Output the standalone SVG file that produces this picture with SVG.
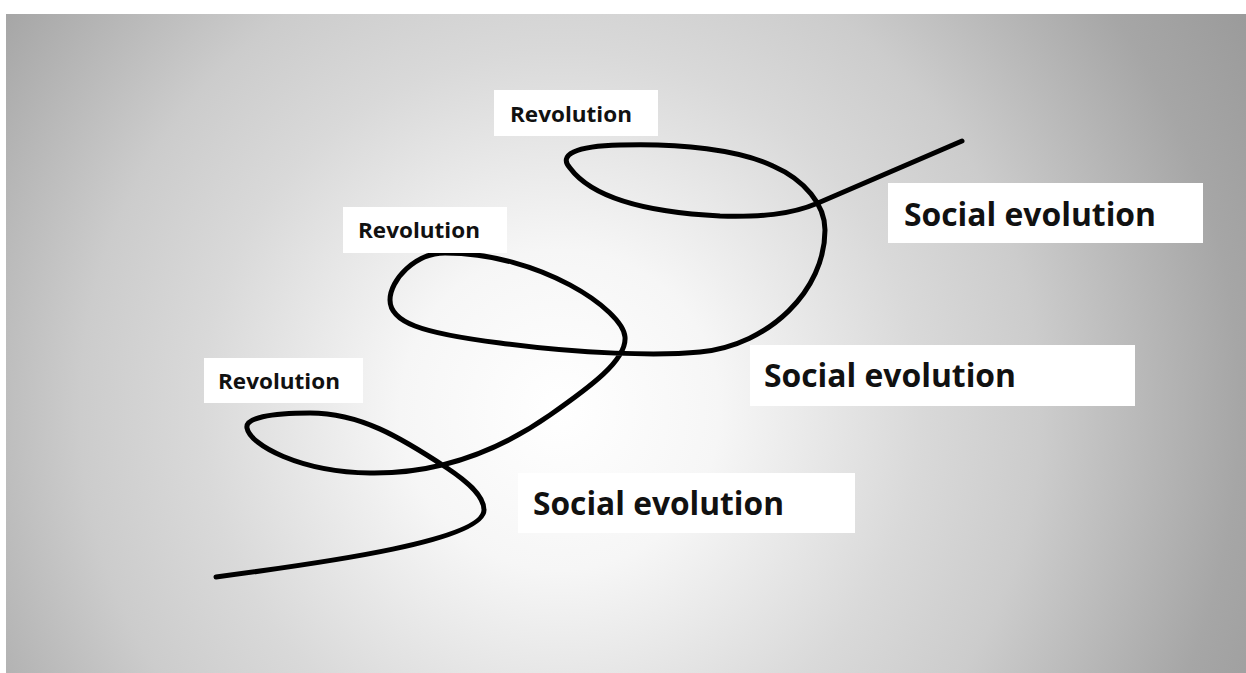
<svg xmlns="http://www.w3.org/2000/svg" width="1246" height="673" viewBox="0 0 1246 673">
<defs>
<radialGradient id="bg" gradientUnits="userSpaceOnUse" cx="560" cy="410" r="800">
<stop offset="0" stop-color="#ffffff"/>
<stop offset="0.2" stop-color="#f6f6f6"/>
<stop offset="0.45" stop-color="#d9d9d9"/>
<stop offset="0.6" stop-color="#cccccc"/>
<stop offset="0.85" stop-color="#a6a6a6"/>
<stop offset="1" stop-color="#9a9a9a"/>
</radialGradient>
<style>
.box{fill:#ffffff}
.rev{font-family:"Open Sans","Liberation Sans",sans-serif;font-weight:bold;font-size:21px;fill:#111111}
.soc{font-family:"Open Sans","Liberation Sans",sans-serif;font-weight:bold;font-size:33px;fill:#111111}
.curve{fill:none;stroke:#000000;stroke-width:5;stroke-linecap:round;stroke-linejoin:round}
</style>
</defs>
<rect x="0" y="0" width="1246" height="673" fill="#ffffff"/>
<rect x="6" y="14" width="1240" height="659" fill="url(#bg)"/>
<g id="connectors">
<path class="curve" d="M216,577 C330,562 484,540 484,510 C484,495 465,480 447,468 C400,437 360,413 310,413 C270,413 245,418 247,428 C250,445 300,472 370,473 C440,474 500,450 550,415 C590,387 627,360 625,337 C623,310 540,253 445,253 C415,253 390,280 390,300 C390,322 420,333 500,343 C580,354 660,356 700,352 C770,345 825,290 825,230 C825,205 805,180 773,166 C740,150 680,143 620,145 C575,146 558,155 570,168 C590,195 640,212 720,216 C760,217 790,215 818,203 L962,141"/>
</g>
<g id="rev1">
<rect class="box" x="494" y="90" width="164" height="46"/>
<text class="rev" x="510" y="122" textLength="122" lengthAdjust="spacingAndGlyphs">Revolution</text>
</g>
<g id="rev2">
<rect class="box" x="343" y="207" width="164" height="46"/>
<text class="rev" x="358" y="238" textLength="122" lengthAdjust="spacingAndGlyphs">Revolution</text>
</g>
<g id="rev3">
<rect class="box" x="204" y="358" width="159" height="45"/>
<text class="rev" x="218" y="389" textLength="122" lengthAdjust="spacingAndGlyphs">Revolution</text>
</g>
<g id="soc1">
<rect class="box" x="888" y="183" width="315" height="60"/>
<text class="soc" x="904" y="226" textLength="252" lengthAdjust="spacingAndGlyphs">Social evolution</text>
</g>
<g id="soc2">
<rect class="box" x="750" y="345" width="385" height="61"/>
<text class="soc" x="764" y="387" textLength="252" lengthAdjust="spacingAndGlyphs">Social evolution</text>
</g>
<g id="soc3">
<rect class="box" x="518" y="473" width="337" height="60"/>
<text class="soc" x="533" y="515" textLength="251" lengthAdjust="spacingAndGlyphs">Social evolution</text>
</g>
</svg>
